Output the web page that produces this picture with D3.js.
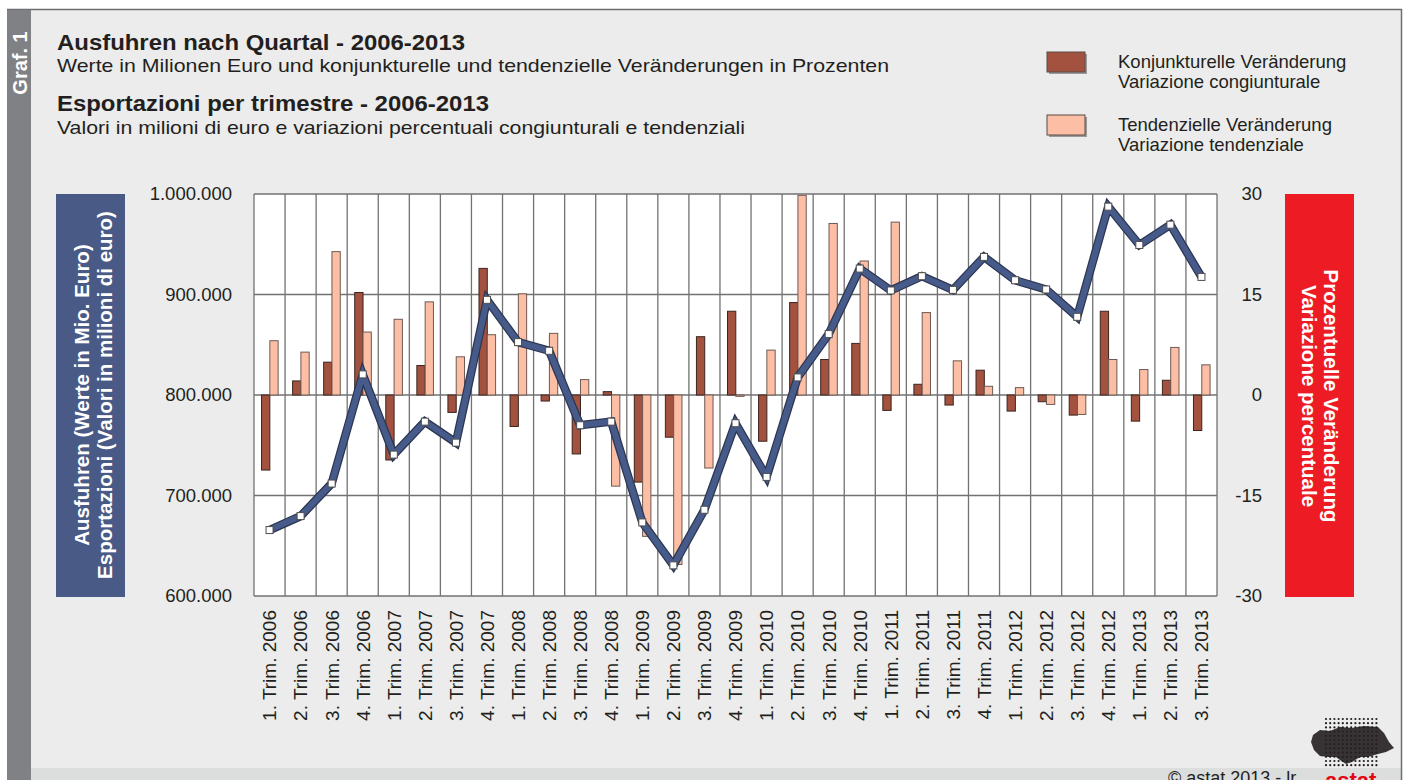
<!DOCTYPE html>
<html>
<head>
<meta charset="utf-8">
<script src="https://cdn.jsdelivr.net/npm/d3@7"></script>
<style>
  html, body { margin: 0; padding: 0; background: #fff; }
  svg { display: block; font-family: "Liberation Sans", Arial, sans-serif; }
  .tick text { fill: #231f20; }
</style>
</head>
<body>
<div id="chart"></div>
<script>
const categories = [
  "1. Trim. 2006", "2. Trim. 2006", "3. Trim. 2006", "4. Trim. 2006",
  "1. Trim. 2007", "2. Trim. 2007", "3. Trim. 2007", "4. Trim. 2007",
  "1. Trim. 2008", "2. Trim. 2008", "3. Trim. 2008", "4. Trim. 2008",
  "1. Trim. 2009", "2. Trim. 2009", "3. Trim. 2009", "4. Trim. 2009",
  "1. Trim. 2010", "2. Trim. 2010", "3. Trim. 2010", "4. Trim. 2010",
  "1. Trim. 2011", "2. Trim. 2011", "3. Trim. 2011", "4. Trim. 2011",
  "1. Trim. 2012", "2. Trim. 2012", "3. Trim. 2012", "4. Trim. 2012",
  "1. Trim. 2013", "2. Trim. 2013", "3. Trim. 2013"
];

// Ausfuhren, Werte in Mio. Euro (linke Achse)
const exportsValues = [
  665600, 679500, 711900, 820500, 740700, 773500, 752600, 894700,
  852600, 844000, 769900, 773500, 673200, 630500, 685800, 771900,
  718500, 817500, 860600, 925800, 904000, 918200, 904600, 937400,
  914200, 905000, 877800, 987400, 949300, 969500, 917500
];

// konjunkturelle Veraenderung in % (rechte Achse)
const konjunkturell = [
  -11.2, 2.1, 4.9, 15.3, -9.7, 4.4, -2.6, 18.9,
  -4.7, -0.9, -8.8, 0.5, -13.0, -6.3, 8.7, 12.5,
  -6.9, 13.8, 5.3, 7.7, -2.3, 1.6, -1.5, 3.7,
  -2.4, -1.0, -3.0, 12.5, -3.9, 2.2, -5.3
];

// tendenzielle Veraenderung in % (rechte Achse)
const tendenziell = [
  8.1, 6.4, 21.4, 9.4, 11.3, 13.9, 5.7, 9.0,
  15.1, 9.2, 2.3, -13.6, -21.1, -25.3, -10.9, -0.2,
  6.7, 29.8, 25.6, 20.0, 25.8, 12.3, 5.1, 1.3,
  1.1, -1.4, -2.9, 5.3, 3.8, 7.1, 4.5
];

const leftTicks = [600000, 700000, 800000, 900000, 1000000];
const rightTicks = [-30, -15, 0, 15, 30];

const seriesNames = ["konj", "tend"];
const legendLabels = [
  ["Konjunkturelle Veränderung", "Variazione congiunturale"],
  ["Tendenzielle Veränderung", "Variazione tendenziale"]
];

const W = 1408, H = 780;
const plot = {left: 254, right: 1217, top: 194, bottom: 596};
const colors = {konj: "#a2523f", tend: "#fcbfa5", line: "#475b8a", bg: "#ebeceb"};

const svg = d3.select("#chart").append("svg")
  .attr("width", W)
  .attr("height", H);

// frame
svg.append("rect").attr("x", 0).attr("y", 0).attr("width", W).attr("height", H).attr("fill", "#fff");
svg.append("rect").attr("x", 7).attr("y", 9).attr("width", 1395).attr("height", H - 9).attr("fill", colors.bg);
svg.append("rect").attr("x", 31).attr("y", 768).attr("width", 1371).attr("height", 12).attr("fill", "#dcdddd");
svg.append("line").attr("x1", 7).attr("x2", 1402).attr("y1", 9.5).attr("y2", 9.5).attr("stroke", "#6d6e70").attr("stroke-width", 1.5);
svg.append("line").attr("x1", 1401.5).attr("x2", 1401.5).attr("y1", 9).attr("y2", H).attr("stroke", "#6d6e70").attr("stroke-width", 1.5);
svg.append("rect").attr("x", 7).attr("y", 10).attr("width", 24).attr("height", H - 10).attr("fill", "#808184");
svg.append("text")
  .attr("transform", "translate(26.5,63) rotate(-90)")
  .attr("text-anchor", "middle")
  .attr("fill", "#fff")
  .attr("font-weight", "bold")
  .attr("font-size", 20)
  .text("Graf. 1");

// titles (the original face is wider than Arial, so stretch to its measured length)
const titles = [
  {t: "Ausfuhren nach Quartal - 2006-2013", y: 50, bold: true, len: 408},
  {t: "Werte in Milionen Euro und konjunkturelle und tendenzielle Veränderungen in Prozenten", y: 72, bold: false, len: 832},
  {t: "Esportazioni per trimestre - 2006-2013", y: 111, bold: true, len: 432},
  {t: "Valori in milioni di euro e variazioni percentuali congiunturali e tendenziali", y: 134, bold: false, len: 688}
];
svg.selectAll("text.title").data(titles).join("text")
  .attr("class", "title")
  .attr("x", 57)
  .attr("y", d => d.y)
  .attr("fill", "#231f20")
  .attr("font-size", d => d.bold ? 22 : 18.5)
  .attr("font-weight", d => d.bold ? "bold" : "normal")
  .attr("textLength", d => d.len)
  .attr("lengthAdjust", "spacingAndGlyphs")
  .text(d => d.t);

// legend
const legend = svg.append("g");
seriesNames.forEach(function (key, i) {
  const y0 = 52 + i * 63;
  legend.append("rect").attr("x", 1049).attr("y", y0 + 2).attr("width", 38).attr("height", 20).attr("fill", "#9a9a9a");
  legend.append("rect").attr("x", 1047).attr("y", y0).attr("width", 38).attr("height", 20)
    .attr("fill", colors[key]).attr("stroke", "#5a4a45").attr("stroke-width", 1);
  legend.append("text").attr("x", 1118).attr("y", y0 + 16).attr("font-size", 18.5).attr("fill", "#231f20").text(legendLabels[i][0]);
  legend.append("text").attr("x", 1118).attr("y", y0 + 36).attr("font-size", 18.5).attr("fill", "#231f20").text(legendLabels[i][1]);
});

// axis title boxes
svg.append("rect").attr("x", 56).attr("y", plot.top).attr("width", 69).attr("height", plot.bottom - plot.top + 1).attr("fill", "#485a85");
svg.append("text")
  .attr("transform", "rotate(-90)")
  .attr("text-anchor", "middle")
  .attr("fill", "#fff").attr("font-weight", "bold").attr("font-size", 20.5)
  .selectAll("tspan").data(["Ausfuhren (Werte in Mio. Euro)", "Esportazioni (Valori in milioni di euro)"]).join("tspan")
  .attr("x", -395)
  .attr("y", (d, i) => 89 + i * 23)
  .text(d => d);

svg.append("rect").attr("x", 1285).attr("y", plot.top).attr("width", 69).attr("height", plot.bottom - plot.top + 1).attr("fill", "#ed1c24");
svg.append("text")
  .attr("transform", "rotate(90)")
  .attr("text-anchor", "middle")
  .attr("fill", "#fff").attr("font-weight", "bold").attr("font-size", 20.5)
  .selectAll("tspan").data(["Prozentuelle Veränderung", "Variazione percentuale"]).join("tspan")
  .attr("x", 396)
  .attr("y", (d, i) => -1324 + i * 22)
  .text(d => d);

// scales
const x = d3.scaleBand().domain(categories).range([plot.left, plot.right]);
const bw = x.bandwidth();
const xs = d3.scaleBand().domain(seriesNames).range([bw / 2 - 8, bw / 2 + 8.6]);
const yL = d3.scaleLinear().domain([600000, 1000000]).range([plot.bottom, plot.top]);
const yR = d3.scaleLinear().domain([-30, 30]).range([plot.bottom, plot.top]);

const de = d3.formatLocale({decimal: ",", thousands: ".", grouping: [3], currency: ["", " €"], minus: "-"});

// plot background and grid
svg.append("rect")
  .attr("x", plot.left).attr("y", plot.top)
  .attr("width", plot.right - plot.left).attr("height", plot.bottom - plot.top)
  .attr("fill", "#fff");

const grid = svg.append("g").attr("stroke", "#727272").attr("stroke-width", 1.3);
grid.selectAll("line.h").data(leftTicks).join("line")
  .attr("class", "h")
  .attr("x1", plot.left).attr("x2", plot.right)
  .attr("y1", d => yL(d)).attr("y2", d => yL(d));
grid.selectAll("line.v").data(categories.concat([null])).join("line")
  .attr("class", "v")
  .attr("x1", (d, i) => plot.left + i * bw).attr("x2", (d, i) => plot.left + i * bw)
  .attr("y1", plot.top).attr("y2", plot.bottom);

// bars
const barData = [];
categories.forEach(function (c, i) {
  barData.push({cat: c, key: "konj", v: konjunkturell[i]});
  barData.push({cat: c, key: "tend", v: tendenziell[i]});
});
svg.append("g").selectAll("rect").data(barData).join("rect")
  .attr("x", d => x(d.cat) + xs(d.key))
  .attr("width", xs.bandwidth())
  .attr("y", d => Math.min(yR(d.v), yR(0)))
  .attr("height", d => Math.abs(yR(d.v) - yR(0)))
  .attr("fill", d => colors[d.key])
  .attr("stroke", d => d.key === "konj" ? "#3c2520" : "#6e5a54")
  .attr("stroke-width", 1);

// line
const line = d3.line()
  .x((d, i) => x(categories[i]) + bw / 2)
  .y(d => yL(d));
svg.append("path").attr("d", line(exportsValues)).attr("fill", "none")
  .attr("stroke", "#2c3652").attr("stroke-width", 8.5).attr("stroke-linejoin", "miter");
svg.append("path").attr("d", line(exportsValues)).attr("fill", "none")
  .attr("stroke", colors.line).attr("stroke-width", 6).attr("stroke-linejoin", "miter");
svg.append("g").selectAll("rect").data(exportsValues).join("rect")
  .attr("x", (d, i) => x(categories[i]) + bw / 2 - 3.5)
  .attr("y", d => yL(d) - 3.5)
  .attr("width", 7).attr("height", 7)
  .attr("fill", "#fff").attr("stroke", "#4d4d4d").attr("stroke-width", 1);

// axes
const axL = svg.append("g")
  .attr("transform", "translate(" + plot.left + ",0)")
  .call(d3.axisLeft(yL).tickValues(leftTicks).tickFormat(de.format(",")).tickSize(0).tickPadding(22));
const axR = svg.append("g")
  .attr("transform", "translate(1262,0)")
  .call(d3.axisLeft(yR).tickValues(rightTicks).tickFormat(de.format("d")).tickSize(0).tickPadding(0));
const axB = svg.append("g")
  .attr("transform", "translate(0," + plot.bottom + ")")
  .call(d3.axisBottom(x).tickSize(0));
[axL, axR, axB].forEach(function (a) {
  a.select(".domain").remove();
  a.selectAll("text").attr("font-size", 18.5).attr("font-family", "Liberation Sans, Arial, sans-serif");
});
axB.selectAll("text")
  .attr("font-size", 19)
  .attr("transform", "rotate(-90)")
  .attr("text-anchor", "end")
  .attr("x", -14)
  .attr("y", 0)
  .attr("dy", "0.36em");

// footer
svg.append("text").attr("x", 1168).attr("y", 784).attr("font-size", 18).attr("fill", "#231f20").text("©  astat 2013 - lr");

// logo: dot grid with dark blob
const logo = svg.append("g");
const dotsX = d3.range(0, 13), dotsY = d3.range(0, 12);
dotsY.forEach(function (r) {
  dotsX.forEach(function (c) {
    logo.append("circle").attr("cx", 1326 + c * 4.2).attr("cy", 719 + r * 4.2).attr("r", 1.1).attr("fill", "#231f20");
  });
});
logo.append("path")
  .attr("d", "M1313,735 L1320,730 L1330,731 L1340,727 L1352,728 L1364,726 L1378,727 L1384,733 L1389,742 L1394,748 L1386,752 L1378,754 L1368,757 L1360,757 L1352,762 L1346,764 L1340,760 L1336,757 L1328,757 L1320,756 L1314,750 L1311,742 Z")
  .attr("fill", "#231f20").attr("opacity", 0.9);
svg.append("text").attr("x", 1325).attr("y", 788).attr("font-size", 22).attr("font-weight", "bold").attr("fill", "#e30613").text("astat");
</script>
</body>
</html>
